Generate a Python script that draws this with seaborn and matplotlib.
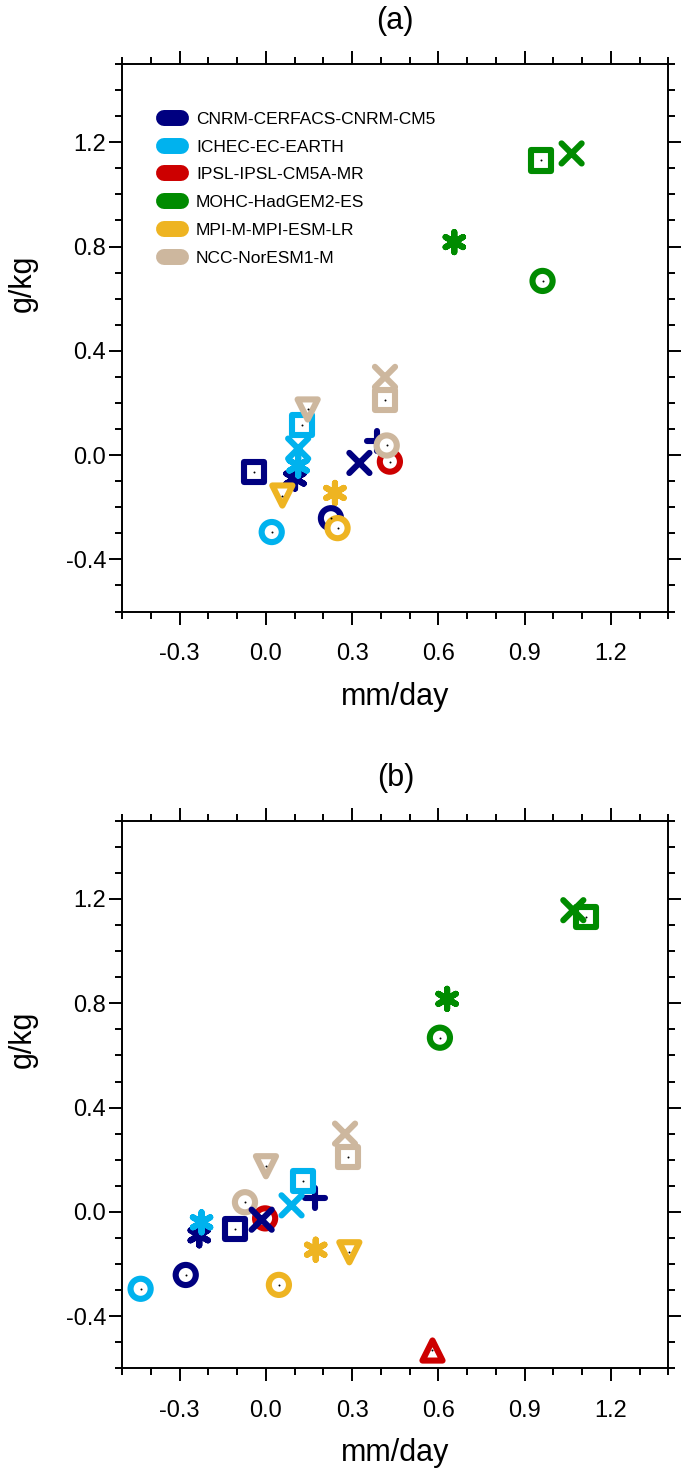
import numpy as np
import pandas as pd
import matplotlib
matplotlib.use('Agg')
import matplotlib.pyplot as plt
from matplotlib.lines import Line2D
from matplotlib.ticker import MultipleLocator, FormatStrFormatter
import seaborn as sns

# models and colours (legend order)
models = ['CNRM-CERFACS-CNRM-CM5', 'ICHEC-EC-EARTH', 'IPSL-IPSL-CM5A-MR',
          'MOHC-HadGEM2-ES', 'MPI-M-MPI-ESM-LR', 'NCC-NorESM1-M']
model_colors = ['#000080', '#00B2EE', '#CD0000', '#008B00', '#EEB422', '#CDB79E']

nan = np.nan
# humidity change (g/kg), one value per model, same in both panels
q_circle = [-0.242, -0.295, -0.025, 0.668, -0.280, 0.037]
q_square = [-0.066, 0.117, nan, 1.130, nan, 0.210]
q_tri_down = [nan, nan, nan, nan, -0.155, 0.175]
q_tri_up = [nan, nan, -0.530, nan, nan, nan]
q_cross = [-0.030, 0.025, nan, 1.157, nan, 0.300]
q_plus = [0.055, nan, nan, nan, nan, nan]
q_aster = [-0.090, -0.040, nan, 0.817, -0.145, nan]

# precipitation change (mm/day), panel (a)
pa_circle = [0.226, 0.020, 0.431, 0.962, 0.249, 0.420]
pa_square = [-0.041, 0.126, nan, 0.957, nan, 0.414]
pa_tri_down = [nan, nan, nan, nan, 0.057, 0.145]
pa_tri_up = [nan, nan, nan, nan, nan, nan]
pa_cross = [0.325, 0.112, nan, 1.063, nan, 0.414]
pa_plus = [0.387, nan, nan, nan, nan, nan]
pa_aster = [0.101, 0.112, nan, 0.655, 0.240, nan]

# precipitation change (mm/day), panel (b)
pb_circle = [-0.279, -0.436, -0.003, 0.605, 0.045, -0.073]
pb_square = [-0.108, 0.130, nan, 1.113, nan, 0.284]
pb_tri_down = [nan, nan, nan, nan, 0.290, 0.000]
pb_tri_up = [nan, nan, 0.578, nan, nan, nan]
pb_cross = [-0.015, 0.089, nan, 1.069, nan, 0.275]
pb_plus = [0.170, nan, nan, nan, nan, nan]
pb_aster = [-0.232, -0.224, nan, 0.630, 0.173, nan]

# draw order of the marker kinds
kinds = ['plus', 'asterisk', 'circle', 'square', 'tri_down', 'tri_up', 'cross']
q_vals = dict(circle=q_circle, square=q_square, tri_down=q_tri_down, tri_up=q_tri_up,
              cross=q_cross, plus=q_plus, asterisk=q_aster)
pa_vals = dict(circle=pa_circle, square=pa_square, tri_down=pa_tri_down, tri_up=pa_tri_up,
               cross=pa_cross, plus=pa_plus, asterisk=pa_aster)
pb_vals = dict(circle=pb_circle, square=pb_square, tri_down=pb_tri_down, tri_up=pb_tri_up,
               cross=pb_cross, plus=pb_plus, asterisk=pb_aster)

markers = {'circle': 'o', 'square': 's', 'tri_down': 'v', 'tri_up': '^',
           'cross': 'x', 'plus': '+', 'asterisk': (6, 2, 0)}
hollow = {'circle', 'square', 'tri_down', 'tri_up'}

rows = []
for k in kinds:
    for i, m in enumerate(models):
        rows.append({'kind': k, 'model': m, 'y': q_vals[k][i],
                     'xa': pa_vals[k][i], 'xb': pb_vals[k][i]})
df = pd.DataFrame(rows)
palette = dict(zip(models, model_colors))

sns.set_theme(style='ticks')
plt.rcParams['font.family'] = ['Liberation Sans', 'DejaVu Sans']
plt.rcParams['axes.unicode_minus'] = False
for key in ['text.color', 'axes.labelcolor', 'xtick.color', 'ytick.color', 'axes.edgecolor']:
    plt.rcParams[key] = 'black'


def draw_panel(ax, xcol, title, show_legend=False):
    for k in kinds:
        sub = df[df['kind'] == k].dropna(subset=[xcol, 'y'])
        if sub.empty:
            continue
        sns.scatterplot(data=sub, x=xcol, y='y', hue='model', hue_order=models,
                        palette=palette, marker=markers[k], s=210, linewidth=4.4,
                        legend=False, ax=ax, zorder=3)
        coll = ax.collections[-1]
        coll.set_capstyle('round')
        coll.set_joinstyle('round')
        if k in hollow:
            # ring-style markers: coloured outline, white inside, black centre dot
            fc = coll.get_facecolors()
            coll.set_edgecolors(fc)
            coll.set_facecolors('white')
            ax.scatter(sub[xcol], sub['y'], s=2, c='black', marker='o',
                       linewidths=0, zorder=3)

    ax.set_xlim(-0.5, 1.4)
    ax.set_ylim(-0.6, 1.5)
    ax.set_xticks([-0.3, 0.0, 0.3, 0.6, 0.9, 1.2])
    ax.set_yticks([-0.4, 0.0, 0.4, 0.8, 1.2])
    ax.xaxis.set_minor_locator(MultipleLocator(0.1))
    ax.yaxis.set_minor_locator(MultipleLocator(0.1))
    ax.xaxis.set_major_formatter(FormatStrFormatter('%.1f'))
    ax.yaxis.set_major_formatter(FormatStrFormatter('%.1f'))
    ax.tick_params(which='both', direction='out', top=True, right=True,
                   width=1.4, color='black', labelcolor='black', labelsize=17)
    ax.tick_params(which='major', length=9.6)
    ax.tick_params(which='minor', length=4.8)
    ax.tick_params(axis='x', pad=13)
    ax.tick_params(axis='y', pad=2)
    for sp in ax.spines.values():
        sp.set_linewidth(1.4)
        sp.set_color('black')
        sp.set_visible(True)
    ax.set_xlabel('mm/day', fontsize=22, labelpad=12)
    ax.set_ylabel('g/kg', fontsize=22, labelpad=20, y=0.6, ha='center')
    ax.set_title(title, fontsize=22, pad=25)

    if show_legend:
        handles = [Line2D([0], [0], color=c, lw=11.5, solid_capstyle='round')
                   for c in model_colors]
        ax.legend(handles, models, loc='upper left', bbox_to_anchor=(0.0765, 0.913),
                  frameon=False, fontsize=12.5, handlelength=1.0, handletextpad=0.85,
                  labelspacing=0.73, borderpad=0, borderaxespad=0)


fig = plt.figure(figsize=(6.85, 14.68), dpi=100)
ax_a = fig.add_axes([0.1784, 0.5834, 0.7975, 0.3730])
ax_b = fig.add_axes([0.1784, 0.0679, 0.7975, 0.3730])

draw_panel(ax_a, 'xa', '(a)', show_legend=True)
draw_panel(ax_b, 'xb', '(b)')

fig.savefig('out.png', dpi=100)
